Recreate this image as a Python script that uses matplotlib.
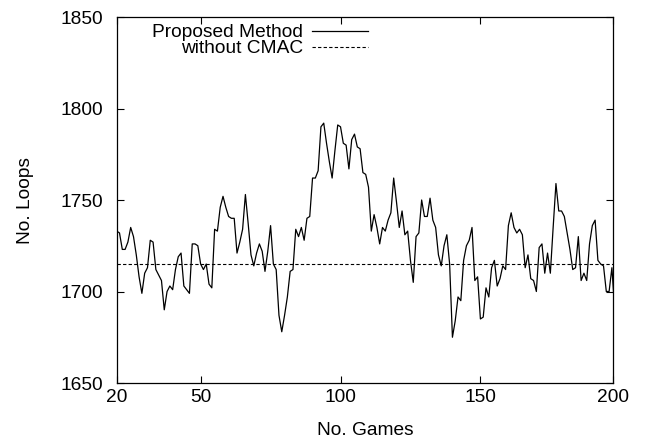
import numpy as np
import matplotlib
matplotlib.use("Agg")
import matplotlib.pyplot as plt

plt.rcParams["font.family"] = ["Liberation Sans", "DejaVu Sans"]
plt.rcParams["font.size"] = 13.8

# loops per game for the proposed method, games 20..198
loops_proposed = [
    1733, 1732, 1723, 1723, 1727, 1735, 1730, 1720, 1708, 1699,
    1710, 1713, 1728, 1727, 1712, 1709, 1706, 1690, 1700, 1703,
    1701, 1712, 1719, 1721, 1703, 1701, 1699, 1726, 1726, 1725,
    1715, 1712, 1715, 1704, 1702, 1734, 1733, 1746, 1752, 1746,
    1741, 1740, 1740, 1721, 1727, 1734, 1753, 1737, 1720, 1714,
    1721, 1726, 1722, 1711, 1722, 1736, 1715, 1712, 1687, 1678,
    1687, 1697, 1711, 1712, 1734, 1730, 1735, 1728, 1740, 1741,
    1762, 1762, 1766, 1790, 1792, 1781, 1771, 1762, 1777, 1791,
    1790, 1781, 1780, 1767, 1783, 1786, 1779, 1778, 1765, 1764,
    1757, 1733, 1742, 1735, 1726, 1735, 1733, 1739, 1743, 1762,
    1749, 1735, 1744, 1731, 1733, 1717, 1705, 1730, 1732, 1750,
    1741, 1741, 1751, 1739, 1735, 1720, 1714, 1725, 1731, 1715,
    1675, 1684, 1697, 1695, 1717, 1725, 1728, 1735, 1706, 1708,
    1685, 1686, 1702, 1697, 1713, 1717, 1703, 1707, 1714, 1712,
    1736, 1743, 1735, 1732, 1734, 1731, 1713, 1720, 1707, 1706,
    1700, 1724, 1726, 1710, 1721, 1710, 1735, 1759, 1744, 1744,
    1741, 1732, 1723, 1712, 1713, 1730, 1706, 1710, 1706, 1726,
    1736, 1739, 1717, 1715, 1714, 1700, 1700, 1713, 1690,
]
games = np.arange(20, 20 + len(loops_proposed))

# baseline without CMAC (constant)
loops_without_cmac = 1715

x_tick_pos = [20, 50, 100, 150, 197.5]
x_tick_labels = ["20", "50", "100", "150", "200"]
y_ticks = [1650, 1700, 1750, 1800, 1850]

fig = plt.figure(figsize=(6.48, 4.44), dpi=100)
ax = fig.add_axes([116.7 / 648, 1 - 383 / 444, 496.6 / 648, 366 / 444])

ax.plot(games, loops_proposed, color="black", lw=0.9)
ax.axhline(loops_without_cmac, color="black", lw=0.8, dashes=(3.0, 2.0))

ax.set_xlim(20, 197.5)
ax.set_ylim(1650, 1850)
ax.set_xticks(x_tick_pos)
ax.set_xticklabels(x_tick_labels)
ax.set_yticks(y_ticks)
ax.tick_params(direction="in", length=4.8, width=0.8, top=True, right=True, colors="black")
ax.tick_params(axis="x", pad=4)
ax.tick_params(axis="y", pad=9.5)
for s in ax.spines.values():
    s.set_linewidth(0.9)

ax.set_xlabel("No. Games", labelpad=12)
ax.set_ylabel("No. Loops", labelpad=19)

# gnuplot-style key: label right-aligned, sample line on the right
key_rows = [("Proposed Method", "-", 0.9445, 0.9604), ("without CMAC", "--", 0.9019, 0.9178)]
for label, style, y_txt, y_line in key_rows:
    ax.text(0.3758, y_txt, label, transform=ax.transAxes, ha="right", va="baseline")
    if style == "-":
        ax.plot([0.3926, 0.5067], [y_line, y_line], transform=ax.transAxes, color="black", lw=0.9)
    else:
        ax.plot([0.3926, 0.5067], [y_line, y_line], transform=ax.transAxes, color="black", lw=0.8,
                dashes=(3.0, 2.0))

fig.savefig("out.png", dpi=100)
